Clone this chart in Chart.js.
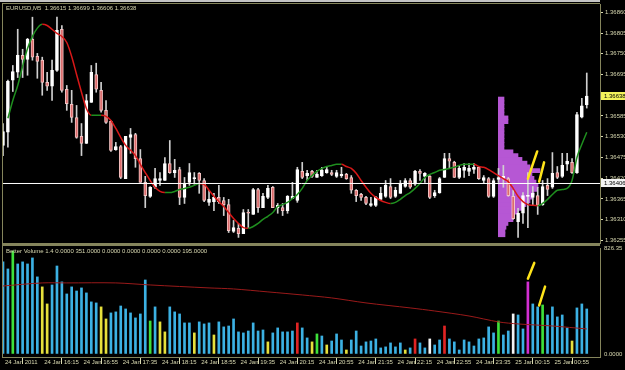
<!DOCTYPE html>
<html>
<head>
<meta charset="utf-8">
<title>EURUSD,M5</title>
<script src="https://cdn.jsdelivr.net/npm/chart.js@4.4.1/dist/chart.umd.min.js"></script>
<style>
  html, body { margin: 0; padding: 0; background: #000; }
  #wrap { position: relative; width: 625px; height: 370px; overflow: hidden; background: #000; }
  #wrap canvas { position: absolute; }
  .rule { position: absolute; background: #85855c; }
</style>
</head>
<body>
<div id="wrap">
  <canvas id="profileChart" width="102" height="245" style="left:498px;top:0"></canvas>
  <canvas id="priceChart" width="625" height="245" style="left:0;top:0"></canvas>
  <canvas id="volumeChart" width="625" height="125" style="left:0;top:245px"></canvas>
  <div class="rule" style="left:0;top:0;width:600px;height:2px;background:#c4c4c4"></div>
  <div class="rule" style="left:2px;top:3px;width:598px;height:1px"></div>
  <div class="rule" style="left:2px;top:3px;width:1px;height:355px"></div>
  <div class="rule" style="left:2px;top:243px;width:598px;height:3px"></div>
</div>
<script>
// EURUSD M5 candles, 24 Jan 2011 15:35 .. 25 Jan 2011 01:30
const barOpen = [
  1.36507, 1.36542, 1.36680, 1.36701, 1.36746, 1.36735, 1.36788, 1.36743, 1.36733, 1.36674,
  1.36664, 1.36706, 1.36815, 1.36656, 1.36616, 1.36581, 1.36531, 1.36512, 1.36621, 1.36695,
  1.36653, 1.36600, 1.36571, 1.36496, 1.36504, 1.36419, 1.36528, 1.36536, 1.36472, 1.36409,
  1.36372, 1.36396, 1.36414, 1.36414, 1.36459, 1.36435, 1.36443, 1.36369, 1.36409, 1.36419,
  1.36433, 1.36414, 1.36356, 1.36358, 1.36369, 1.36361, 1.36350, 1.36279, 1.36287, 1.36273,
  1.36329, 1.36324, 1.36390, 1.36342, 1.36369, 1.36396, 1.36342, 1.36342, 1.36334, 1.36366,
  1.36361, 1.36438, 1.36427, 1.36438, 1.36422, 1.36427, 1.36435, 1.36435, 1.36425, 1.36427,
  1.36430, 1.36422, 1.36388, 1.36377, 1.36369, 1.36348, 1.36348, 1.36364, 1.36372, 1.36398,
  1.36372, 1.36380, 1.36398, 1.36414, 1.36404, 1.36438, 1.36425, 1.36425, 1.36374, 1.36382,
  1.36422, 1.36472, 1.36462, 1.36422, 1.36441, 1.36438, 1.36443, 1.36449, 1.36414, 1.36419,
  1.36372, 1.36417, 1.36419, 1.36419, 1.36372, 1.36305, 1.36327, 1.36372, 1.36369, 1.36374,
  1.36350, 1.36401, 1.36396, 1.36435, 1.36425, 1.36457, 1.36462, 1.36435, 1.36582, 1.36615
];
const barHigh = [
  1.36565, 1.36680, 1.36719, 1.36815, 1.36762, 1.36791, 1.36847, 1.36751, 1.36741, 1.36701,
  1.36733, 1.36847, 1.36825, 1.36666, 1.36653, 1.36613, 1.36565, 1.36642, 1.36719, 1.36725,
  1.36674, 1.36626, 1.36573, 1.36515, 1.36507, 1.36531, 1.36552, 1.36539, 1.36496, 1.36425,
  1.36398, 1.36446, 1.36435, 1.36475, 1.36520, 1.36470, 1.36449, 1.36422, 1.36459, 1.36435,
  1.36435, 1.36419, 1.36388, 1.36380, 1.36401, 1.36369, 1.36364, 1.36308, 1.36300, 1.36337,
  1.36337, 1.36393, 1.36393, 1.36380, 1.36401, 1.36398, 1.36353, 1.36353, 1.36374, 1.36409,
  1.36449, 1.36462, 1.36441, 1.36441, 1.36441, 1.36449, 1.36449, 1.36441, 1.36441, 1.36449,
  1.36433, 1.36427, 1.36390, 1.36380, 1.36372, 1.36369, 1.36372, 1.36396, 1.36414, 1.36419,
  1.36396, 1.36414, 1.36419, 1.36419, 1.36441, 1.36443, 1.36435, 1.36427, 1.36388, 1.36422,
  1.36486, 1.36486, 1.36465, 1.36454, 1.36459, 1.36459, 1.36459, 1.36451, 1.36427, 1.36422,
  1.36419, 1.36446, 1.36454, 1.36422, 1.36388, 1.36340, 1.36382, 1.36435, 1.36398, 1.36396,
  1.36414, 1.36419, 1.36488, 1.36451, 1.36486, 1.36486, 1.36472, 1.36595, 1.36632, 1.36699
];
const barLow = [
  1.36480, 1.36502, 1.36650, 1.36687, 1.36687, 1.36693, 1.36733, 1.36685, 1.36640, 1.36653,
  1.36626, 1.36703, 1.36648, 1.36600, 1.36568, 1.36526, 1.36480, 1.36512, 1.36621, 1.36648,
  1.36595, 1.36565, 1.36491, 1.36494, 1.36419, 1.36419, 1.36486, 1.36449, 1.36409, 1.36342,
  1.36369, 1.36393, 1.36401, 1.36414, 1.36433, 1.36422, 1.36350, 1.36353, 1.36401, 1.36404,
  1.36380, 1.36358, 1.36348, 1.36334, 1.36353, 1.36321, 1.36276, 1.36276, 1.36263, 1.36273,
  1.36289, 1.36324, 1.36329, 1.36342, 1.36366, 1.36342, 1.36327, 1.36321, 1.36327, 1.36366,
  1.36356, 1.36419, 1.36414, 1.36422, 1.36422, 1.36425, 1.36433, 1.36427, 1.36422, 1.36422,
  1.36417, 1.36380, 1.36358, 1.36361, 1.36350, 1.36345, 1.36345, 1.36361, 1.36369, 1.36366,
  1.36369, 1.36380, 1.36396, 1.36393, 1.36401, 1.36414, 1.36409, 1.36366, 1.36369, 1.36380,
  1.36422, 1.36446, 1.36422, 1.36419, 1.36422, 1.36427, 1.36433, 1.36417, 1.36406, 1.36369,
  1.36369, 1.36409, 1.36396, 1.36372, 1.36311, 1.36263, 1.36300, 1.36289, 1.36348, 1.36324,
  1.36348, 1.36374, 1.36393, 1.36419, 1.36422, 1.36441, 1.36433, 1.36433, 1.36580, 1.36606
];
const barClose = [
  1.36544, 1.36677, 1.36703, 1.36746, 1.36735, 1.36788, 1.36741, 1.36730, 1.36674, 1.36664,
  1.36706, 1.36812, 1.36653, 1.36618, 1.36581, 1.36528, 1.36512, 1.36626, 1.36701, 1.36656,
  1.36600, 1.36568, 1.36494, 1.36504, 1.36422, 1.36531, 1.36536, 1.36472, 1.36409, 1.36374,
  1.36396, 1.36419, 1.36419, 1.36459, 1.36435, 1.36441, 1.36369, 1.36406, 1.36435, 1.36422,
  1.36414, 1.36361, 1.36364, 1.36369, 1.36358, 1.36350, 1.36281, 1.36289, 1.36273, 1.36329,
  1.36327, 1.36390, 1.36342, 1.36372, 1.36393, 1.36342, 1.36348, 1.36334, 1.36372, 1.36372,
  1.36443, 1.36422, 1.36433, 1.36425, 1.36430, 1.36441, 1.36443, 1.36430, 1.36435, 1.36430,
  1.36419, 1.36388, 1.36374, 1.36369, 1.36353, 1.36353, 1.36369, 1.36380, 1.36401, 1.36369,
  1.36388, 1.36406, 1.36414, 1.36396, 1.36438, 1.36433, 1.36433, 1.36369, 1.36382, 1.36419,
  1.36472, 1.36465, 1.36422, 1.36446, 1.36449, 1.36446, 1.36449, 1.36419, 1.36422, 1.36372,
  1.36414, 1.36422, 1.36425, 1.36374, 1.36313, 1.36327, 1.36374, 1.36374, 1.36380, 1.36348,
  1.36398, 1.36390, 1.36433, 1.36422, 1.36454, 1.36465, 1.36435, 1.36589, 1.36612, 1.36638
];

// moving average on price, starts at bar 1
const maStart = 1;
const maValues = [
  1.36579, 1.36626, 1.36666, 1.36717, 1.36764, 1.36796, 1.36818, 1.36828, 1.36825, 1.36815,
  1.36804, 1.36796, 1.36780, 1.36743, 1.36695, 1.36648, 1.36605, 1.36587, 1.36587, 1.36587,
  1.36584, 1.36573, 1.36552, 1.36528, 1.36507, 1.36494, 1.36480, 1.36457, 1.36435, 1.36414,
  1.36396, 1.36385, 1.36382, 1.36382, 1.36385, 1.36390, 1.36393, 1.36396, 1.36401, 1.36406,
  1.36404, 1.36388, 1.36372, 1.36358, 1.36345, 1.36329, 1.36313, 1.36300, 1.36289, 1.36287,
  1.36292, 1.36300, 1.36311, 1.36319, 1.36329, 1.36345, 1.36350, 1.36356, 1.36366, 1.36377,
  1.36393, 1.36414, 1.36427, 1.36438, 1.36446, 1.36451, 1.36454, 1.36457, 1.36457, 1.36451,
  1.36446, 1.36433, 1.36414, 1.36396, 1.36380, 1.36369, 1.36361, 1.36356, 1.36353, 1.36356,
  1.36364, 1.36374, 1.36382, 1.36393, 1.36406, 1.36422, 1.36430, 1.36435, 1.36441, 1.36443,
  1.36446, 1.36449, 1.36454, 1.36457, 1.36457, 1.36457, 1.36451, 1.36449, 1.36443, 1.36435,
  1.36427, 1.36419, 1.36411, 1.36393, 1.36372, 1.36358, 1.36350, 1.36348, 1.36347, 1.36353,
  1.36364, 1.36377, 1.36388, 1.36390, 1.36393, 1.36414, 1.36475, 1.36510, 1.36542
];

// horizontal line and price axis
const levelLine = 1.36406;
const priceTicks = [1.36860, 1.36805, 1.36750, 1.36695, 1.36640, 1.36585, 1.36530,
                    1.36475, 1.36420, 1.36365, 1.36310, 1.36255];
const priceMin = 1.362482;
const priceMax = 1.368820;

// volume profile (price level -> size)
const profilePrices = [
  1.36630, 1.36620, 1.36610, 1.36600, 1.36590, 1.36580, 1.36570, 1.36560, 1.36550, 1.36540,
  1.36530, 1.36520, 1.36510, 1.36500, 1.36490, 1.36480, 1.36470, 1.36460, 1.36450, 1.36440,
  1.36430, 1.36420, 1.36410, 1.36400, 1.36390, 1.36380, 1.36370, 1.36360, 1.36350, 1.36340,
  1.36330, 1.36320, 1.36310, 1.36300, 1.36290, 1.36280, 1.36270
];
const profileSizes = [
  6, 6, 6, 6, 6, 10, 10, 6, 6, 6,
  6, 6, 6, 6, 15, 20, 24, 29, 32, 42,
  34, 36, 38, 40, 39, 36, 35, 32, 28, 25,
  20, 16, 15, 10, 8, 7, 7
];

// Better Volume
const volumes = [
  718, 663, 803, 702, 718, 702, 749, 601, 523, 390,
  538, 686, 562, 468, 523, 491, 515, 476, 406, 398,
  367, 273, 320, 328, 374, 351, 320, 281, 312, 577,
  257, 367, 250, 172, 367, 328, 312, 242, 242, 164,
  250, 234, 242, 148, 250, 211, 218, 273, 172, 164,
  179, 242, 179, 187, 94, 164, 203, 172, 172, 179,
  242, 203, 125, 94, 156, 140, 70, 101, 156, 109,
  31, 109, 179, 62, 94, 101, 117, 47, 55, 86,
  55, 86, 31, 47, 117, 86, 47, 117, 70, 109,
  218, 117, 94, 31, 109, 94, 62, 117, 125, 211,
  164, 257, 148, 179, 312, 304, 195, 562, 390, 367,
  382, 304, 367, 289, 304, 203, 101, 359, 390, 351
];
// N normal, L low volume, C churn, U climax up, D climax down, M climax churn
const volType = ('NNCNNNNNLL' + 'NNNNNNNNNN' + 'LLNNNNNNNN' + 'CNLLNNNNNL' +
                 'NNNLNNNNNN' + 'NNNNLNNNNN' + 'UNNLCNLNNN' + 'LNNNNNNNNN' +
                 'NNLNUNNDNN' + 'UNNNNNNNNN' + 'NCNNDNNMNN' + 'CNNNNNLNNN').split('');
const volMaBars = [0, 8, 13, 23, 30, 42, 47, 54, 61, 67, 74, 83, 88, 95, 101, 105, 112, 119];
const volMaValues = [530, 554, 554, 554, 538, 515, 507, 484, 460, 437, 398, 359, 335, 296, 250, 234, 218, 195];
const volTickValues = [826.35, 0];
const volTickLabels = ['826.35', '0.0000'];
const volMin = -23.85;
const volMax = 826.35;

// hand drawn yellow strokes: [bar, value, bar, value]
const priceStrokes = [[107.0, 1.36419, 108.9, 1.36491], [109.3, 1.36411, 110.3, 1.36462]];
const volumeStrokes = [[107.0, 587, 108.3, 710], [109.3, 378, 110.5, 525]];

// time axis
const timeLabelBars = [0, 8, 16, 24, 32, 40, 48, 56, 64, 72, 80, 88, 96, 104, 112];
const timeLabels = ['24 Jan 2011', '24 Jan 16:15', '24 Jan 16:55', '24 Jan 17:35', '24 Jan 18:15',
  '24 Jan 18:55', '24 Jan 19:35', '24 Jan 20:15', '24 Jan 20:55', '24 Jan 21:35',
  '24 Jan 22:15', '24 Jan 22:55', '24 Jan 23:35', '25 Jan 00:15', '25 Jan 00:55'];

const xMax = 121.7;

// styles
const C_TEXT = '#d8d8b0';
const C_FRAME = '#85855c';
const FONT = { family: 'Liberation Sans', size: 6 };
const VOL_COLORS = { N: '#3cb1e3', L: '#e6e03c', C: '#3ee03a', U: '#e02424', D: '#f4f4f4', M: '#d22fd2' };
const STROKE = '#ffe41a';

Chart.defaults.font.family = 'Liberation Sans';

const last = barOpen.length - 1;

// titles and highlighted axis labels
const overlayText = {
  id: 'overlayText',
  afterDraw(chart, args, opts) {
    const ctx = chart.ctx;
    ctx.save();
    ctx.font = '6px "Liberation Sans"';
    ctx.textBaseline = 'middle';
    ctx.fillStyle = C_TEXT;
    ctx.fillText(opts.title, 6, opts.titleY);
    (opts.marks || []).forEach(m => {
      const y = chart.scales.y.getPixelForValue(m.value);
      ctx.fillStyle = m.bg;
      ctx.fillRect(601, Math.round(y) - 4, 24, 8);
      ctx.fillStyle = m.fg;
      ctx.fillText(m.value.toFixed(5), 604, Math.round(y));
    });
    ctx.restore();
  }
};

const strokeSet = (list) => list.map(s => ({
  type: 'line',
  data: [{ x: s[0], y: s[1] }, { x: s[2], y: s[3] }],
  borderColor: STROKE,
  borderWidth: 2.5,
  borderCapStyle: 'round',
  pointRadius: 0,
  order: -2
}));

// volume profile (drawn behind the candles)
new Chart(document.getElementById('profileChart'), {
  type: 'bar',
  data: {
    datasets: [{
      data: profileSizes.map((s, i) => ({ x: s, y: profilePrices[i] })),
      backgroundColor: '#b657d4',
      borderWidth: 0,
      barThickness: 4
    }]
  },
  options: {
    indexAxis: 'y',
    responsive: false,
    animation: false,
    devicePixelRatio: 1,
    layout: { padding: { top: 4, bottom: 2 } },
    scales: {
      x: { type: 'linear', min: 0, max: 102, display: false },
      y: { type: 'linear', min: priceMin, max: priceMax, display: false, offset: false }
    },
    plugins: { legend: { display: false }, tooltip: { enabled: false } }
  }
});

// price chart
const isBull = barClose.map((c, i) => c >= barOpen[i]);

new Chart(document.getElementById('priceChart'), {
  type: 'bar',
  data: {
    datasets: [
      ...strokeSet(priceStrokes),
      {
        type: 'line',
        data: [{ x: 0, y: levelLine }, { x: xMax, y: levelLine }],
        borderColor: '#ffffff',
        borderWidth: 1,
        pointRadius: 0,
        order: -1
      },
      {
        type: 'line',
        data: maValues.map((v, i) => ({ x: i + maStart, y: v })),
        borderWidth: 1.5,
        pointRadius: 0,
        cubicInterpolationMode: 'monotone',
        segment: {
          borderColor: ctx => ctx.p1.parsed.y >= ctx.p0.parsed.y ? '#1f8f1f' : '#d81818'
        },
        order: 0
      },
      {
        data: barOpen.map((o, i) => ({ x: i, y: [Math.min(o, barClose[i]), Math.max(o, barClose[i])] })),
        backgroundColor: isBull.map(b => b ? '#ffffff' : '#dc6c6c'),
        borderColor: isBull.map(b => b ? '#ffffff' : '#f4c4c4'),
        borderWidth: 1,
        borderSkipped: false,
        barThickness: 3,
        minBarLength: 1,
        grouped: false,
        order: 1
      },
      {
        data: barLow.map((l, i) => ({ x: i, y: [l, barHigh[i]] })),
        backgroundColor: '#cfcfcf',
        barThickness: 1,
        grouped: false,
        order: 2
      }
    ]
  },
  options: {
    responsive: false,
    animation: false,
    devicePixelRatio: 1,
    layout: { padding: { left: 3, top: 4, bottom: 2 } },
    scales: {
      x: { type: 'linear', min: 0, max: xMax, offset: false, display: false },
      y: {
        type: 'linear',
        position: 'right',
        min: priceMin,
        max: priceMax,
        afterBuildTicks: s => { s.ticks = priceTicks.map(v => ({ value: v })); },
        afterFit: s => { s.width = 25; s.paddingTop = 0; s.paddingBottom = 0; },
        grid: { drawOnChartArea: false, drawTicks: true, tickLength: 3, tickColor: C_TEXT },
        border: { color: C_FRAME },
        ticks: { color: C_TEXT, font: FONT, padding: 2, autoSkip: false, callback: v => v.toFixed(5) }
      }
    },
    plugins: {
      legend: { display: false },
      tooltip: { enabled: false },
      overlayText: {
        title: 'EURUSD,M5  ' + [barOpen[last], barHigh[last], barLow[last], barClose[last]].map(v => v.toFixed(5)).join(' '),
        titleY: 8,
        marks: [
          { value: barClose[last], bg: '#f2f25a', fg: '#000000' },
          { value: levelLine, bg: '#f2f2f2', fg: '#000000' }
        ]
      }
    }
  },
  plugins: [overlayText]
});

// Better Volume pane
new Chart(document.getElementById('volumeChart'), {
  type: 'bar',
  data: {
    datasets: [
      ...strokeSet(volumeStrokes),
      {
        type: 'line',
        data: volMaBars.map((b, i) => ({ x: b, y: volMaValues[i] })),
        borderColor: '#9a1a1a',
        borderWidth: 1,
        pointRadius: 0,
        tension: 0.3,
        order: 0
      },
      {
        data: volumes.map((v, i) => ({ x: i, y: v })),
        backgroundColor: volType.map(t => VOL_COLORS[t]),
        barThickness: 2,
        grouped: false,
        order: 1
      }
    ]
  },
  options: {
    responsive: false,
    animation: false,
    devicePixelRatio: 1,
    layout: { padding: { left: 3, top: 3 } },
    scales: {
      x: {
        type: 'linear',
        min: 0,
        max: xMax,
        offset: false,
        afterBuildTicks: s => { s.ticks = timeLabelBars.map(v => ({ value: v })); },
        afterFit: s => { s.height = 13; s.paddingLeft = 0; s.paddingRight = 0; },
        grid: { drawOnChartArea: false, drawTicks: true, tickLength: 7, tickColor: C_TEXT },
        border: { color: C_FRAME },
        ticks: {
          color: C_TEXT, font: FONT, padding: -5, align: 'start', labelOffset: 2,
          maxRotation: 0, autoSkip: false, callback: (v, i) => timeLabels[i]
        }
      },
      y: {
        type: 'linear',
        position: 'right',
        min: volMin,
        max: volMax,
        afterBuildTicks: s => { s.ticks = volTickValues.map(v => ({ value: v })); },
        afterFit: s => { s.width = 25; s.paddingTop = 0; s.paddingBottom = 0; },
        grid: { drawOnChartArea: false, drawTicks: false },
        border: { color: C_FRAME },
        ticks: { color: C_TEXT, font: FONT, padding: 4, autoSkip: false, callback: (v, i) => volTickLabels[i] }
      }
    },
    plugins: {
      legend: { display: false },
      tooltip: { enabled: false },
      overlayText: {
        title: 'Better Volume 1.4 0.0000 ' + volumes[last].toFixed(4) +
               ' 0.0000 0.0000 0.0000 0.0000 ' + volMaValues[volMaValues.length - 1].toFixed(4),
        titleY: 6
      }
    }
  },
  plugins: [overlayText]
});
</script>
</body>
</html>
